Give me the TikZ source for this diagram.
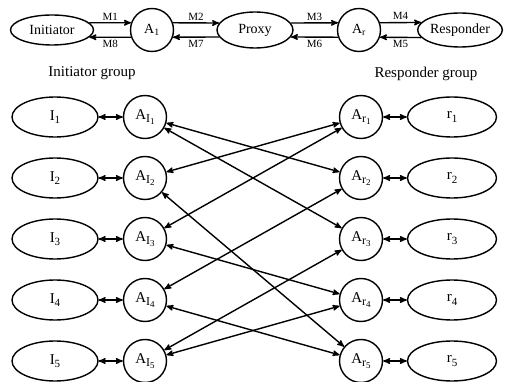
\documentclass[tikz,border=0pt]{standalone}
\usepackage{fontspec}
\setmainfont{Liberation Serif}
\usetikzlibrary{arrows,automata,shapes.geometric}
\newcommand{\idx}[2]{#1\raisebox{-0.45ex}{\fontsize{11}{11}\selectfont #2}}
\newcommand{\agt}[2]{A\raisebox{-0.45ex}{\fontsize{12}{12}\selectfont #1\raisebox{-0.45ex}{\fontsize{9}{9}\selectfont #2}}}

\begin{document}
\begin{tikzpicture}[x=1pt,y=1pt,>=stealth',auto,line width=1.4pt,
                    node distance=102pt,font=\fontsize{14}{16}\selectfont]
    \tikzstyle{every state}=[draw,minimum size=43pt,inner sep=0pt,line width=1.4pt]
    \tikzstyle{party}=[ellipse,draw,inner sep=0pt,minimum width=86pt,minimum height=40pt]
    \tikzstyle{msg}=[font=\fontsize{11}{12}\selectfont,inner sep=2pt]
    \tikzstyle{low}=[font=\fontsize{15}{17}\selectfont]
    \useasboundingbox (0,0) rectangle (509,-382);

    % message flow
    \node[party,minimum width=83pt,minimum height=30pt] (Init) at (52,-30) {Initiator};
    \node[state] (A1) [right of=Init,node distance=100pt] {A\textsubscript{1}};
    \node[party,minimum width=76pt,minimum height=36pt] (Proxy) [right of=A1,node distance=103pt] {Proxy};
    \node[state] (Ar) [right of=Proxy,node distance=104pt] {A\textsubscript{r}};
    \node[party,minimum width=78pt,minimum height=34pt] (Resp) [right of=Ar,node distance=101pt] {Responder};

    \path[->] (Init.11) edge node[msg] {M1} (A1.161)
              (A1.19) edge node[msg] {M2} (Proxy.169)
              (Proxy.11) edge node[msg] {M3} (Ar.161)
              (Ar.19) edge node[msg] {M4} (Resp.169)
              (Resp.191) edge node[msg] {M5} (Ar.-19)
              (Ar.199) edge node[msg] {M6} (Proxy.-11)
              (Proxy.191) edge node[msg] {M7} (A1.-19)
              (A1.199) edge node[msg] {M8} (Init.-11);

    \node[low] (IG) at (92,-73) {Initiator group};
    \node[low] (RG) at (426,-74) {Responder group};

    % groups
    \node[party,low] (I1) at (55,-117) {\idx{I}{1}};
    \node[party,low] (I2) at (55,-178) {\idx{I}{2}};
    \node[party,low] (I3) at (55,-239) {\idx{I}{3}};
    \node[party,low] (I4) at (55,-300) {\idx{I}{4}};
    \node[party,low] (I5) at (55,-361) {\idx{I}{5}};

    \node[state,low] (AI1) at (145,-117) {\agt{I}{1}};
    \node[state,low] (AI2) at (145,-178) {\agt{I}{2}};
    \node[state,low] (AI3) at (145,-239) {\agt{I}{3}};
    \node[state,low] (AI4) at (145,-300) {\agt{I}{4}};
    \node[state,low] (AI5) at (145,-361) {\agt{I}{5}};

    \node[state,low] (Ar1) at (361,-117) {\agt{r}{1}};
    \node[state,low] (Ar2) at (361,-178) {\agt{r}{2}};
    \node[state,low] (Ar3) at (361,-239) {\agt{r}{3}};
    \node[state,low] (Ar4) at (361,-300) {\agt{r}{4}};
    \node[state,low] (Ar5) at (361,-361) {\agt{r}{5}};

    \node[party,low,minimum width=89pt] (r1) at (452,-117) {\idx{r}{1}};
    \node[party,low,minimum width=89pt] (r2) at (452,-178) {\idx{r}{2}};
    \node[party,low,minimum width=89pt] (r3) at (452,-239) {\idx{r}{3}};
    \node[party,low,minimum width=89pt] (r4) at (452,-300) {\idx{r}{4}};
    \node[party,low,minimum width=89pt] (r5) at (452,-361) {\idx{r}{5}};

    \path[<->] (I1) edge (AI1)  (I2) edge (AI2)  (I3) edge (AI3)
               (I4) edge (AI4)  (I5) edge (AI5)
               (Ar1) edge (r1)  (Ar2) edge (r2)  (Ar3) edge (r3)
               (Ar4) edge (r4)  (Ar5) edge (r5);

    \path[<->] (AI1) edge (Ar2)
                     edge (Ar3)
               (AI2) edge (Ar1)
                     edge (Ar5)
               (AI3) edge (Ar1)
                     edge (Ar4)
               (AI4) edge (Ar2)
                     edge (Ar5)
               (AI5) edge (Ar3)
                     edge (Ar4);
\end{tikzpicture}
\end{document}
